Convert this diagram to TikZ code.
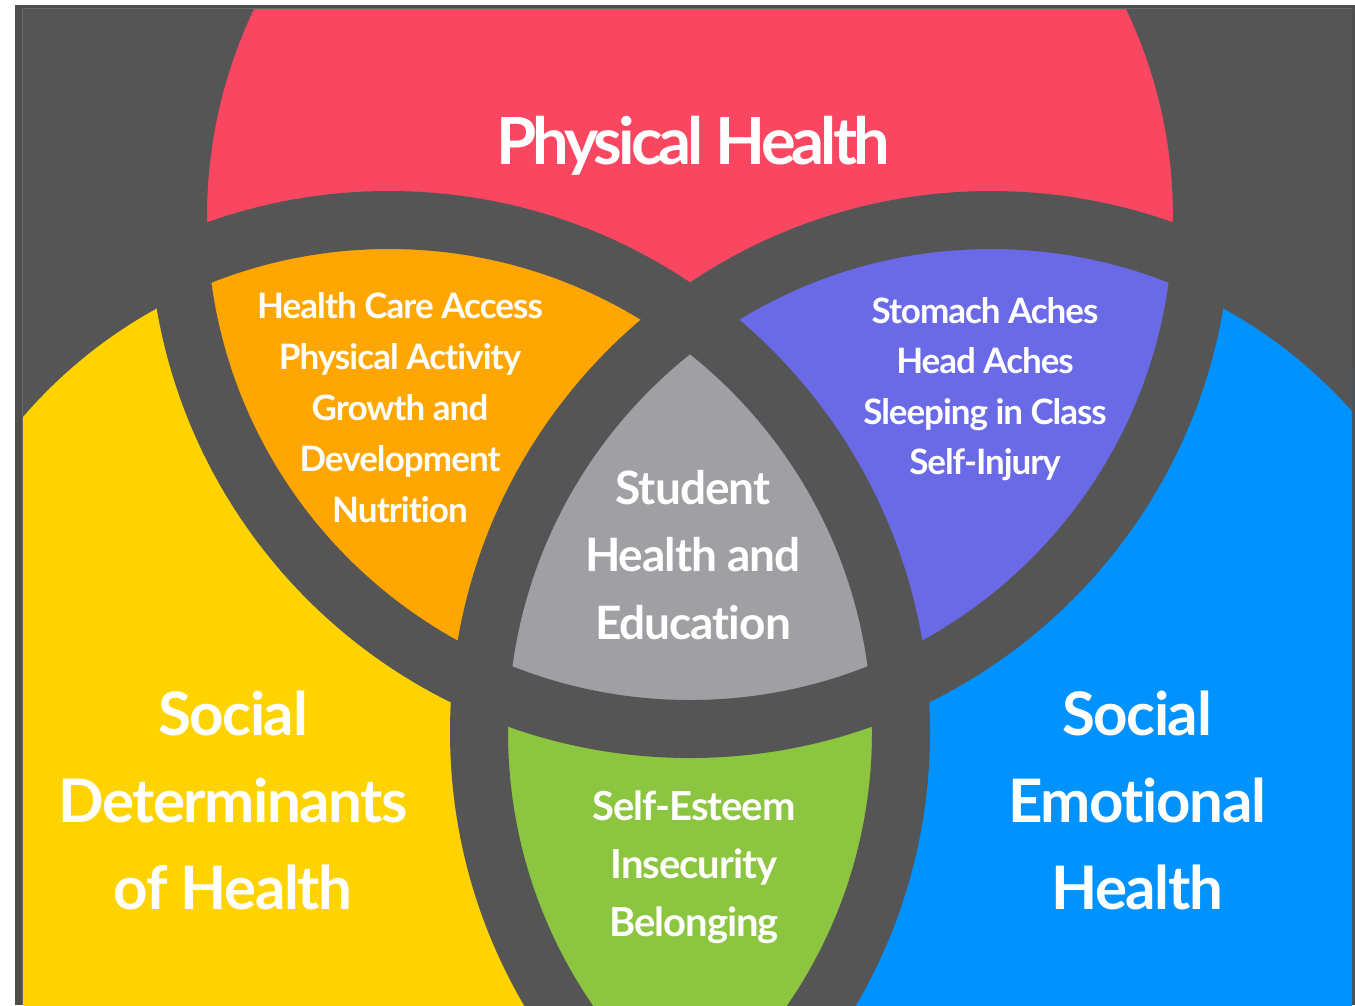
\documentclass[tikz,border=0pt]{standalone}
\usepackage{fontspec}
\setmainfont{Lato}[Ligatures=NoCommon]
\definecolor{bgdark}{HTML}{555555}
\definecolor{edgedark}{HTML}{4E4E4E}
\definecolor{edgeline}{HTML}{686868}
\definecolor{cred}{HTML}{FA4761}
\definecolor{corange}{HTML}{FFA600}
\definecolor{cyellow}{HTML}{FFD300}
\definecolor{cblue}{HTML}{0092FF}
\definecolor{cpurple}{HTML}{6A6AE6}
\definecolor{cgreen}{HTML}{8CC53F}
\definecolor{cgray}{HTML}{A0A0A4}
\tikzset{
  ring/.style={draw=bgdark, line width=58pt},
  lbl/.style={text=white, align=center, inner sep=0pt, font=\bfseries},
}
\begin{document}
\begin{tikzpicture}[x=1pt,y=-1pt]
\useasboundingbox (0,0) rectangle (1355,1005);
\fill[white] (0,0) rectangle (1355,1005);
\fill[edgedark] (15,5) rectangle (1355,1005);
\draw[edgeline, line width=1pt] (22.5,1005) -- (22.5,8.5) -- (1352.5,8.5);
\begin{scope}
\clip (23,9) rectangle (1352,1005);
\fill[bgdark] (23,9) rectangle (1352,1005);
\def\R{512}
\coordinate (ct) at (690,217);
\coordinate (cl) at (389,732);
\coordinate (cr) at (991,732);
% base fills
\fill[cred] (ct) circle[radius=\R];
\fill[cyellow] (cl) circle[radius=\R];
\fill[cblue] (cr) circle[radius=\R];
% pairwise intersections
\begin{scope}\clip (ct) circle[radius=\R]; \fill[corange] (cl) circle[radius=\R];\end{scope}
\begin{scope}\clip (ct) circle[radius=\R]; \fill[cpurple] (cr) circle[radius=\R];\end{scope}
\begin{scope}\clip (cl) circle[radius=\R]; \fill[cgreen] (cr) circle[radius=\R];\end{scope}
\begin{scope}\clip (ct) circle[radius=\R]; \clip (cl) circle[radius=\R]; \fill[cgray] (cr) circle[radius=\R];\end{scope}
% rings
\draw[ring] (ct) circle[radius=\R];
\draw[ring] (cl) circle[radius=\R];
\draw[ring] (cr) circle[radius=\R];
\end{scope}
% labels
\node[lbl, font=\bfseries\fontsize{65}{78}\selectfont\addfontfeature{LetterSpace=-6}] (phys) at (693,146) {Physical Health};
\node[lbl, font=\bfseries\fontsize{35}{51}\selectfont\addfontfeature{LetterSpace=-2.7}] (orng) at (400,408) {Health Care Access\\Physical Activity\\Growth and\\Development\\Nutrition};
\node[lbl, font=\bfseries\fontsize{35}{50.5}\selectfont\addfontfeature{LetterSpace=-3}] (purp) at (985,389) {Stomach Aches\\Head Aches\\Sleeping in Class\\Self-Injury};
\node[lbl, font=\bfseries\fontsize{46}{67.5}\selectfont\addfontfeature{LetterSpace=-2.2}] (cent) at (693,555) {Student\\Health and\\Education};
\node[lbl, font=\bfseries\fontsize{40}{58}\selectfont\addfontfeature{LetterSpace=-2.5}] (gren) at (694,867) {Self-Esteem\\Insecurity\\Belonging};
\node[lbl, font=\bfseries\fontsize{60}{87}\selectfont\addfontfeature{LetterSpace=-2.4}] (sdoh) at (233,800) {Social\\Determinants\\of Health};
\node[lbl, font=\bfseries\fontsize{60}{87}\selectfont\addfontfeature{LetterSpace=-2.4}] (seh) at (1137,800) {Social\\Emotional\\Health};
\end{tikzpicture}
\end{document}
